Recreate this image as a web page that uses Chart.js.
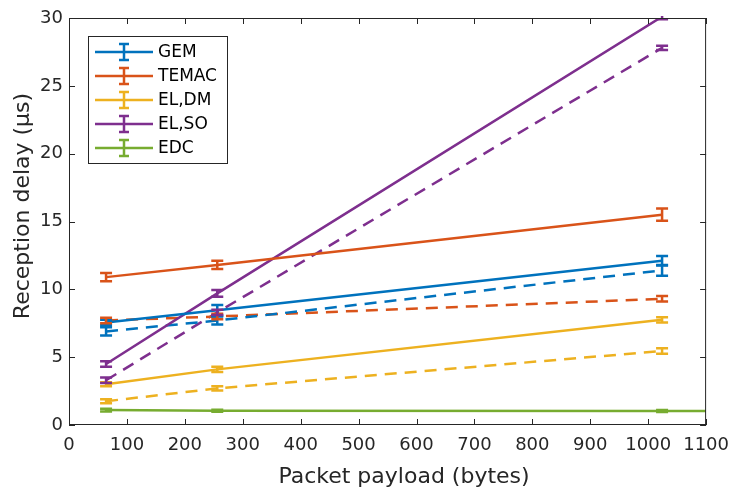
<!DOCTYPE html>
<html>
<head>
<meta charset="utf-8">
<script src="https://cdn.jsdelivr.net/npm/chart.js@4"></script>
<style>
  html, body { margin: 0; padding: 0; background: #fff; }
  #wrap { width: 739px; height: 488px; }
</style>
</head>
<body>
<div id="wrap"><canvas id="c" width="739" height="488"></canvas></div>
<script>
// payload sizes (bytes)
const payload = [64, 256, 1024];
const seriesNames = ["GEM", "TEMAC", "EL,DM", "EL,SO", "EDC"];
const seriesColors = ["#0072BD", "#D95319", "#EDB120", "#7E2F8E", "#77AC30"];
const xTitle = "Packet payload (bytes)";
const yTitle = "Reception delay (μs)";

// solid lines
const gemSolid = [7.55, 8.45, 12.1];
const gemSolidErr = [0.2, 0.4, 0.35];
const temacSolid = [10.9, 11.8, 15.5];
const temacSolidErr = [0.3, 0.3, 0.45];
const eldmSolid = [3.0, 4.1, 7.75];
const eldmSolidErr = [0.15, 0.2, 0.2];
const elsoSolid = [4.5, 9.7, 30.1];
const elsoSolidErr = [0.2, 0.25, 0.2];

// dashed lines
const gemDash = [6.9, 7.7, 11.4];
const gemDashErr = [0.3, 0.3, 0.4];
const temacDash = [7.7, 8.0, 9.3];
const temacDashErr = [0.2, 0.2, 0.2];
const eldmDash = [1.75, 2.7, 5.45];
const eldmDashErr = [0.15, 0.15, 0.2];
const elsoDash = [3.3, 8.3, 27.8];
const elsoDashErr = [0.2, 0.2, 0.15];

// EDC (continues past the axis)
const edcX = [64, 256, 1024, 1500];
const edcVals = [1.1, 1.05, 1.03, 1.03];
const edcErr = [0.1, 0.08, 0.08, 0.08];

const xTicks = [0, 100, 200, 300, 400, 500, 600, 700, 800, 900, 1000, 1100];
const yTicks = [0, 5, 10, 15, 20, 25, 30];

const FONT = "'DejaVu Sans', Verdana, sans-serif";

function pts(xs, ys) { return xs.map((x, i) => ({ x: x, y: ys[i] })); }

function ds(xs, ys, err, color, dashed) {
  return {
    data: pts(xs, ys),
    errors: err,
    borderColor: color,
    backgroundColor: color,
    borderWidth: 2.5,
    borderDash: dashed ? [12, 8] : [],
    pointRadius: 0,
    tension: 0,
    clip: { left: 0, top: 0, right: 0, bottom: 0 }
  };
}

const datasets = [
  ds(payload, gemSolid, gemSolidErr, seriesColors[0], false),
  ds(payload, temacSolid, temacSolidErr, seriesColors[1], false),
  ds(payload, eldmSolid, eldmSolidErr, seriesColors[2], false),
  ds(payload, elsoSolid, elsoSolidErr, seriesColors[3], false),
  ds(edcX, edcVals, edcErr, seriesColors[4], false),
  ds(payload, gemDash, gemDashErr, seriesColors[0], true),
  ds(payload, temacDash, temacDashErr, seriesColors[1], true),
  ds(payload, eldmDash, eldmDashErr, seriesColors[2], true),
  ds(payload, elsoDash, elsoDashErr, seriesColors[3], true)
];

// error bars, drawn through the chart's scales
const errorBars = {
  id: "errorBars",
  afterDatasetsDraw(chart) {
    const ctx = chart.ctx;
    const xs = chart.scales.x, ys = chart.scales.y;
    const area = chart.chartArea;
    ctx.save();
    ctx.beginPath();
    ctx.rect(area.left, area.top - 2, area.right - area.left, area.bottom - area.top + 2);
    ctx.clip();
    chart.data.datasets.forEach(d => {
      ctx.strokeStyle = d.borderColor;
      ctx.lineWidth = 2.5;
      ctx.setLineDash([]);
      d.data.forEach((p, i) => {
        const e = d.errors[i];
        const px = xs.getPixelForValue(p.x);
        const top = ys.getPixelForValue(p.y + e);
        const bot = ys.getPixelForValue(p.y - e);
        ctx.beginPath();
        ctx.moveTo(px, top); ctx.lineTo(px, bot);
        ctx.moveTo(px - 6, top); ctx.lineTo(px + 6, top);
        ctx.moveTo(px - 6, bot); ctx.lineTo(px + 6, bot);
        ctx.stroke();
      });
    });
    ctx.restore();
  }
};

// MATLAB style box with inward ticks, axis titles and the legend
const boxAndLegend = {
  id: "boxAndLegend",
  afterDraw(chart) {
    const ctx = chart.ctx;
    const a = chart.chartArea;
    const xs = chart.scales.x, ys = chart.scales.y;
    ctx.save();
    ctx.strokeStyle = "#262626";
    ctx.lineWidth = 1;
    ctx.setLineDash([]);
    ctx.strokeRect(a.left + 0.5, a.top + 0.5, a.right - a.left - 1, a.bottom - a.top - 1);
    ctx.beginPath();
    xTicks.forEach(v => {
      const p = Math.round(xs.getPixelForValue(v)) + 0.5;
      ctx.moveTo(p, a.bottom); ctx.lineTo(p, a.bottom - 6);
      ctx.moveTo(p, a.top); ctx.lineTo(p, a.top + 6);
    });
    yTicks.forEach(v => {
      const p = Math.round(ys.getPixelForValue(v)) + 0.5;
      ctx.moveTo(a.left, p); ctx.lineTo(a.left + 6, p);
      ctx.moveTo(a.right, p); ctx.lineTo(a.right - 6, p);
    });
    ctx.stroke();

    // axis titles
    ctx.fillStyle = "#262626";
    ctx.font = "22px " + FONT;
    ctx.textAlign = "center";
    ctx.textBaseline = "alphabetic";
    ctx.fillText(xTitle, 404, 483);
    ctx.save();
    ctx.translate(29, 206);
    ctx.rotate(-Math.PI / 2);
    ctx.fillText(yTitle, 0, 0);
    ctx.restore();

    // legend
    const lx = 88, ly = 36, lw = 139, lh = 127;
    ctx.fillStyle = "#fff";
    ctx.fillRect(lx, ly, lw, lh);
    ctx.strokeStyle = "#262626";
    ctx.strokeRect(lx + 0.5, ly + 0.5, lw, lh);
    ctx.font = "17px " + FONT;
    ctx.textAlign = "left";
    ctx.textBaseline = "middle";
    seriesNames.forEach((name, i) => {
      const y = ly + 16 + i * 24;
      ctx.strokeStyle = seriesColors[i];
      ctx.lineWidth = 2.5;
      ctx.beginPath();
      ctx.moveTo(95, y); ctx.lineTo(153, y);
      ctx.moveTo(124, y - 8); ctx.lineTo(124, y + 8);
      ctx.moveTo(119, y - 8); ctx.lineTo(129, y - 8);
      ctx.moveTo(119, y + 8); ctx.lineTo(129, y + 8);
      ctx.stroke();
      ctx.fillStyle = "#000";
      ctx.fillText(name, 158, y + 1);
    });
    ctx.restore();
  }
};

new Chart(document.getElementById("c"), {
  type: "line",
  data: { datasets: datasets },
  options: {
    responsive: false,
    animation: false,
    layout: { padding: { top: 18, right: 29, left: 0, bottom: 0 } },
    plugins: { legend: { display: false }, tooltip: { enabled: false } },
    scales: {
      x: {
        type: "linear",
        min: 0, max: 1100,
        afterBuildTicks(s) { s.ticks = xTicks.map(v => ({ value: v })); },
        afterFit(s) { s.height = 63; },
        grid: { display: false, drawTicks: false },
        border: { display: false },
        ticks: { color: "#262626", padding: 10, maxRotation: 0, callback: v => String(v), font: { size: 18, family: FONT } }
      },
      y: {
        type: "linear",
        min: 0, max: 30,
        afterBuildTicks(s) { s.ticks = yTicks.map(v => ({ value: v })); },
        afterFit(s) { s.width = 69; },
        grid: { display: false, drawTicks: false },
        border: { display: false },
        ticks: { color: "#262626", padding: 6, callback: v => String(v), font: { size: 18, family: FONT } }
      }
    }
  },
  plugins: [errorBars, boxAndLegend]
});
</script>
</body>
</html>
